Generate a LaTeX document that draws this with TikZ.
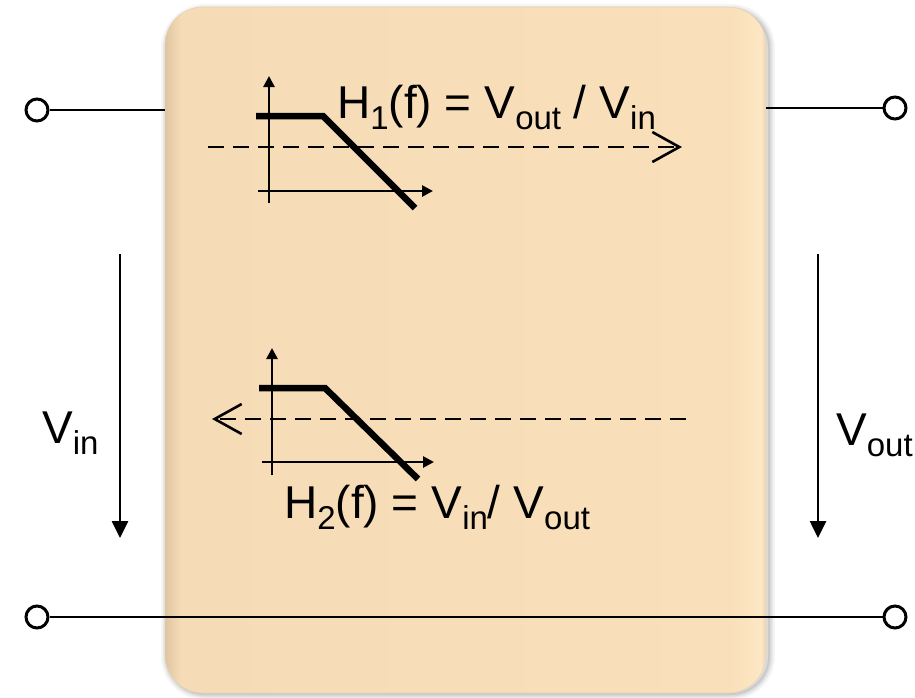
\documentclass[tikz,border=0pt]{standalone}
\usepackage{fontspec}
\setmainfont{Liberation Sans}
\usetikzlibrary{arrows.meta}
\definecolor{boxA}{RGB}{222,196,160}
\definecolor{boxB}{RGB}{246,220,182}
\definecolor{boxC}{RGB}{249,223,186}
\definecolor{boxD}{RGB}{253,231,196}
\definecolor{boxE}{RGB}{230,210,180}
\pgfdeclarehorizontalshading{boxshade}{100bp}{color(0bp)=(boxA); color(25bp)=(boxA); color(26.3bp)=(boxB); color(72bp)=(boxC); color(74.6bp)=(boxD); color(75bp)=(boxE); color(100bp)=(boxE)}
\newcommand\sbs[1]{\raisebox{-0.26em}{\fontsize{33}{33}\selectfont #1}}
\tikzset{
  term/.style={circle, draw, line width=3pt, fill=white, minimum size=22pt, inner sep=0pt},
  wire/.style={line width=2.8pt},
  varrow/.style={line width=2.6pt, -{Triangle[length=17pt,width=16pt]}},
  axis/.style={line width=2.6pt, -{Triangle[length=11pt,width=11pt]}},
  curve/.style={line width=6.5pt},
  flow/.style={line width=2.6pt, dash pattern=on 16pt off 9pt, -{Straight Barb[length=27pt,width=30pt,line width=2.6pt]}},
  lbl/.style={inner sep=0pt, anchor=base west, font=\fontsize{46}{55}\selectfont},
  boxst/.style={rounded corners=38pt, minimum width=601pt, minimum height=686pt, inner sep=0pt}
}
\begin{document}
\begin{tikzpicture}[x=1pt,y=-1pt]
\useasboundingbox (0,0) rectangle (915,697);
% shadow
\foreach \w/\o in {12/0.04,8/0.05,5/0.06,2/0.08}{
  \draw[black, opacity=\o, line width=\w pt, rounded corners=38pt] (167,10) rectangle (769,694);
}
% box
\node[boxst, shading=boxshade, draw=boxE, line width=0.6pt] (box) at (465.5,350) {};
% terminals
\node[term] (a1) at (37,110) {};
\node[term] (b1) at (895,108) {};
\node[term] (a2) at (37,617) {};
\node[term] (b2) at (895,617) {};
\draw[wire] (a1) -- (a1 -| box.west);
\draw[wire] (b1 -| box.east) -- (b1);
\draw[wire] (a2) -- (b2);
% voltage arrows
\coordinate (vi1) at (120,254); \coordinate (vi2) at (120,538);
\coordinate (vo1) at (818,254); \coordinate (vo2) at (818,538);
\draw[varrow] (vi1) -- (vi2);
\draw[varrow] (vo1) -- (vo2);
\node[lbl] (vinl) at (42,443) {V\sbs{in}};
\node[lbl] (voutl) at (836,445) {V\sbs{out}};
% graph 1
\coordinate (g1y0) at (269,203); \coordinate (g1y1) at (269,76);
\coordinate (g1x0) at (258,191); \coordinate (g1x1) at (433,191);
\draw[axis] (g1y0) -- (g1y1);
\draw[axis] (g1x0) -- (g1x1);
\coordinate (c1a) at (256,116); \coordinate (c1b) at (323,116); \coordinate (c1c) at (415,208);
\draw[curve] (c1a) -- (c1b) -- (c1c);
\coordinate (f1a) at (208,147); \coordinate (f1b) at (682,147);
\draw[flow] (f1a) -- (f1b);
\node[lbl] (h1) at (337,118) {H\sbs{1}(f) = V\sbs{out} / V\sbs{in}};
% graph 2
\coordinate (g2y0) at (272,475); \coordinate (g2y1) at (272,348);
\coordinate (g2x0) at (262,462); \coordinate (g2x1) at (434,462);
\draw[axis] (g2y0) -- (g2y1);
\draw[axis] (g2x0) -- (g2x1);
\coordinate (c2a) at (259,388); \coordinate (c2b) at (325,388); \coordinate (c2c) at (418,479);
\draw[curve] (c2a) -- (c2b) -- (c2c);
\coordinate (f2a) at (686,419); \coordinate (f2b) at (212,419);
\draw[flow] (f2a) -- (f2b);
\node[lbl] (h2) at (284,518) {H\sbs{2}(f) = V\sbs{in}/ V\sbs{out}};
\end{tikzpicture}
\end{document}
